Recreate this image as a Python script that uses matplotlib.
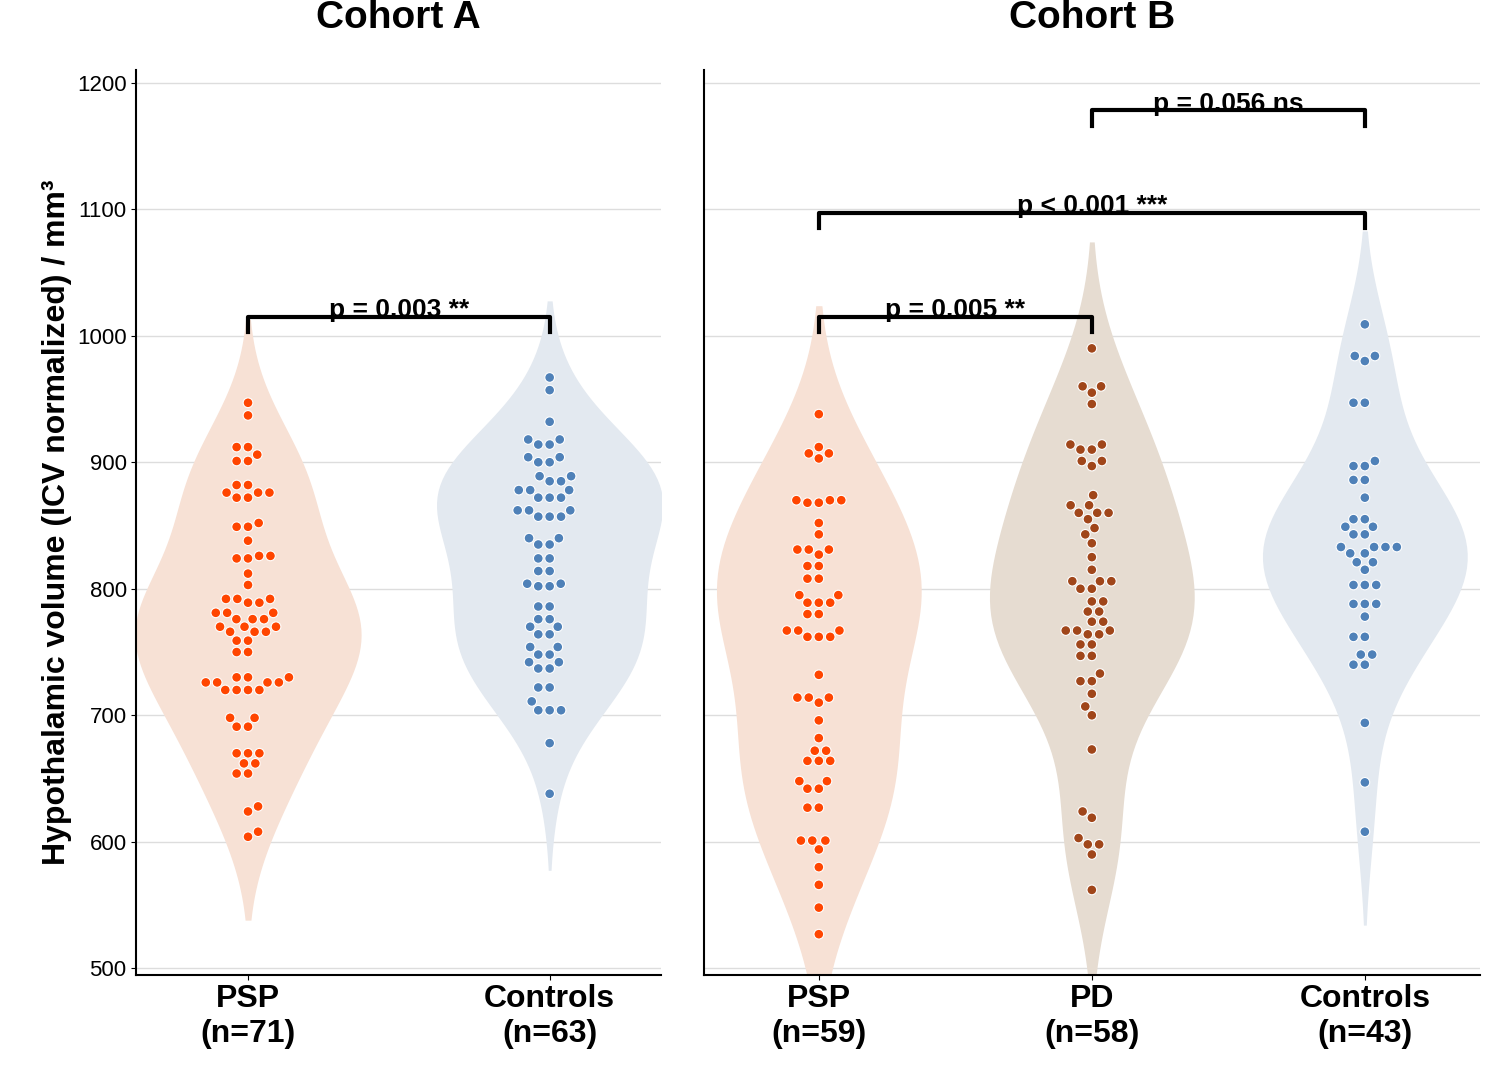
import matplotlib
matplotlib.use("Agg")
import matplotlib.pyplot as plt
import numpy as np
import pandas as pd
import seaborn as sns

plt.rcParams['font.family'] = ['Liberation Sans', 'DejaVu Sans']

# values (mm3) and how many points sit at each value
a_psp_v = [947, 937, 912, 906, 901, 882, 876, 872, 852, 849, 838, 826, 824, 812, 803, 792, 789, 781, 776, 770, 766, 759, 750, 730, 726, 720, 698, 691, 670, 662, 654, 628, 624, 608, 604]
a_psp_n = [1, 1, 2, 1, 2, 2, 3, 2, 1, 2, 1, 2, 2, 1, 1, 3, 2, 3, 3, 3, 3, 2, 2, 3, 4, 4, 2, 2, 3, 2, 2, 1, 1, 1, 1]
a_con_v = [967, 957, 932, 918, 914, 904, 900, 889, 885, 878, 872, 862, 857, 840, 835, 824, 814, 804, 802, 786, 776, 770, 764, 754, 748, 742, 737, 722, 711, 704, 678, 638]
a_con_n = [1, 1, 1, 2, 2, 2, 2, 2, 2, 3, 3, 3, 3, 2, 2, 2, 2, 2, 2, 2, 2, 2, 2, 2, 2, 2, 2, 2, 1, 3, 1, 1]
b_psp_v = [938, 912, 907, 903, 870, 868, 852, 843, 831, 827, 818, 808, 795, 789, 780, 767, 762, 732, 714, 710, 696, 682, 672, 664, 648, 642, 627, 601, 594, 580, 566, 548, 527]
b_psp_n = [1, 1, 2, 1, 3, 2, 1, 1, 3, 1, 2, 2, 2, 3, 2, 3, 3, 1, 3, 1, 1, 1, 2, 3, 2, 2, 2, 3, 1, 1, 1, 1, 1]
b_pd_v = [990, 960, 955, 946, 914, 910, 901, 897, 874, 866, 860, 855, 848, 843, 836, 825, 815, 806, 800, 790, 782, 774, 767, 764, 756, 747, 733, 727, 717, 707, 700, 673, 624, 619, 603, 598, 590, 562]
b_pd_n = [1, 2, 1, 1, 2, 2, 2, 1, 1, 2, 3, 1, 1, 1, 1, 1, 1, 3, 2, 2, 2, 2, 3, 2, 2, 2, 1, 2, 1, 1, 1, 1, 1, 1, 1, 2, 1, 1]
b_con_v = [1009, 984, 980, 947, 901, 897, 886, 872, 855, 849, 843, 833, 828, 821, 815, 803, 788, 778, 762, 748, 740, 694, 647, 608]
b_con_n = [1, 2, 1, 2, 1, 2, 2, 1, 2, 2, 2, 4, 2, 2, 1, 3, 3, 1, 2, 2, 2, 1, 1, 1]

labels_a = ["PSP\n(n=71)", "Controls\n(n=63)"]
labels_b = ["PSP\n(n=59)", "PD\n(n=58)", "Controls\n(n=43)"]

dot_col = {"PSP": "#FF4500", "PD": "#A0461A", "Controls": "#4F81B8"}
vio_col = {"PSP": "#FDDFCF", "PD": "#EADCCD", "Controls": "#E1E9F2"}


def rows(group, vals, counts):
    return pd.DataFrame({"g": group, "v": np.repeat(vals, counts)})


df_a = pd.concat([rows("PSP", a_psp_v, a_psp_n), rows("Controls", a_con_v, a_con_n)])
df_b = pd.concat([rows("PSP", b_psp_v, b_psp_n), rows("PD", b_pd_v, b_pd_n),
                  rows("Controls", b_con_v, b_con_n)])

fig, (ax1, ax2) = plt.subplots(1, 2, figsize=(14.99, 10.77), dpi=100,
                               gridspec_kw=dict(width_ratios=[528, 780], wspace=0.066))


def panel(ax, df, order, labels, title, pad):
    sns.violinplot(data=df, x="g", y="v", order=order, hue="g", hue_order=order,
                   palette=vio_col, inner=None, linewidth=0, cut=1.6, bw_adjust=1.15,
                   width=0.75, legend=False, ax=ax)
    sns.swarmplot(data=df, x="g", y="v", order=order, hue="g", hue_order=order,
                  palette=dot_col, size=7, edgecolor="white", linewidth=0.8,
                  legend=False, ax=ax)
    ax.set_ylim(495, 1210)
    ax.set_yticks(range(500, 1201, 100))
    ax.yaxis.grid(True, color="#DDDDDD", lw=1)
    ax.set_axisbelow(True)
    for s in ["top", "right"]:
        ax.spines[s].set_visible(False)
    ax.spines["left"].set_linewidth(1.5)
    ax.spines["bottom"].set_linewidth(1.5)
    ax.set_xticks(range(len(order)))
    ax.set_xticklabels(labels, fontsize=23, fontweight="bold")
    ax.set_xlabel("")
    ax.set_title(title, fontsize=28, fontweight="bold", pad=30)
    ax.set_xlim(-pad, len(order) - 1 + pad)


def bracket(ax, x0, x1, y, text):
    ax.plot([x0, x0, x1, x1], [y - 12, y, y, y - 12], color="black", lw=3, clip_on=False)
    ax.text((x0 + x1) / 2, y - 4, text, ha="center", va="bottom", fontsize=19, fontweight="bold")


panel(ax1, df_a, ["PSP", "Controls"], labels_a, "Cohort A", 0.37)
panel(ax2, df_b, ["PSP", "PD", "Controls"], labels_b, "Cohort B", 0.42)
ax1.set_ylabel("Hypothalamic volume (ICV normalized) / mm³", fontsize=23, fontweight="bold")
ax1.tick_params(axis="y", labelsize=16)
ax2.set_ylabel("")
ax2.tick_params(axis="y", left=False, labelleft=False)

bracket(ax1, 0, 1, 1015, "p = 0.003 **")
bracket(ax2, 0, 1, 1015, "p = 0.005 **")
bracket(ax2, 0, 2, 1097, "p < 0.001 ***")
bracket(ax2, 1, 2, 1178, "p = 0.056 ns")

fig.subplots_adjust(left=0.091, right=0.987, top=0.935, bottom=0.095)
fig.savefig("out.png", dpi=100)
